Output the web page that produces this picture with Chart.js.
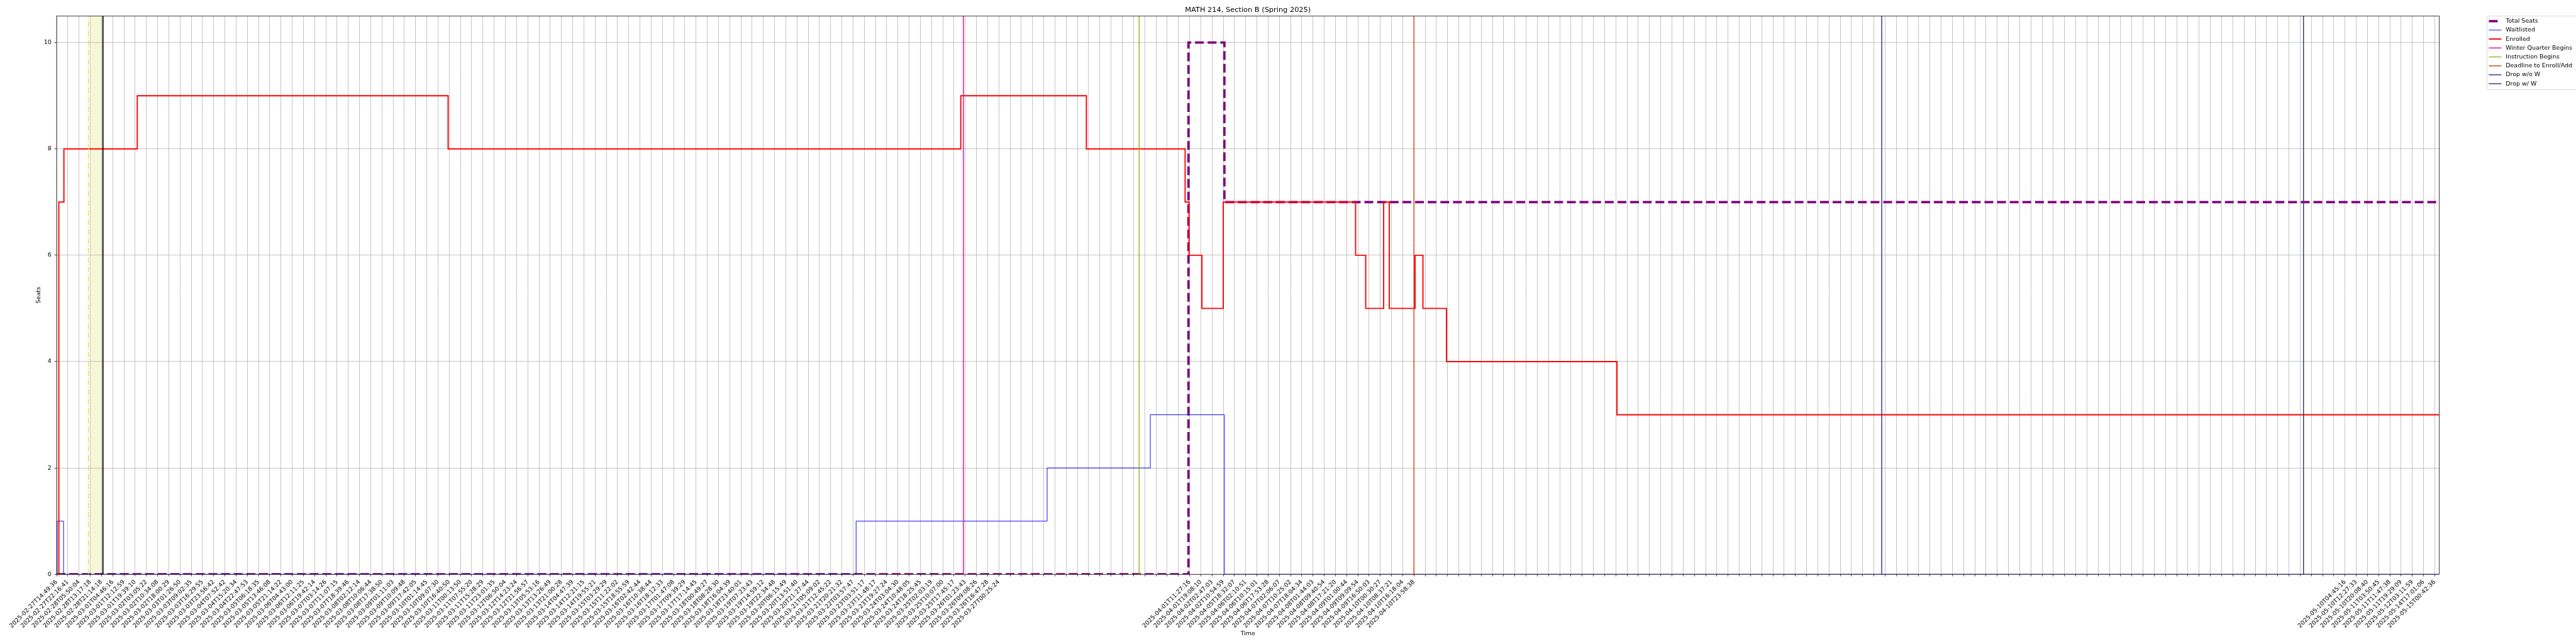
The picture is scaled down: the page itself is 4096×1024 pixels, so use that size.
<!DOCTYPE html>
<html>
<head>
<meta charset="utf-8">
<script src="https://cdn.jsdelivr.net/npm/chart.js@4"></script>
<style>
  html, body { margin: 0; padding: 0; background: #fff; }
  #wrap { width: 4096px; height: 1024px; }
</style>
</head>
<body>
<div id="wrap"><canvas id="chart" width="4096" height="1024"></canvas></div>
<script>
/* one label per x tick (scrape timestamps); '' = not read yet */
const tickLabels = [
    '2025-02-27T14:49:36', '2025-02-27T22:16:41', '2025-02-28T05:50:04', '2025-02-28T13:17:18',
    '2025-02-28T21:14:18', '2025-03-01T04:46:16', '2025-03-01T12:12:59', '2025-03-01T19:39:10',
    '2025-03-02T03:05:22', '2025-03-02T10:34:08', '2025-03-02T18:00:29', '2025-03-03T01:26:50',
    '2025-03-03T09:02:35', '2025-03-03T16:29:55', '2025-03-03T23:56:42', '2025-03-04T07:52:42',
    '2025-03-04T15:20:34', '2025-03-04T22:47:53', '2025-03-05T06:18:35', '2025-03-05T13:46:08',
    '2025-03-05T21:14:22', '2025-03-06T04:43:00', '2025-03-06T12:11:25', '2025-03-06T19:42:14',
    '2025-03-07T03:14:26', '2025-03-07T11:07:15', '2025-03-07T18:39:46', '2025-03-08T02:12:14',
    '2025-03-08T10:06:44', '2025-03-08T17:38:50', '2025-03-09T01:11:03', '2025-03-09T10:09:48',
    '2025-03-09T17:42:05', '2025-03-10T01:14:45', '2025-03-10T09:07:30', '2025-03-10T16:40:50',
    '2025-03-11T00:13:50', '2025-03-11T07:55:20', '2025-03-11T15:28:29', '2025-03-11T23:01:35',
    '2025-03-12T06:50:04', '2025-03-12T14:23:24', '2025-03-12T21:56:57', '2025-03-13T05:53:16',
    '2025-03-13T13:26:49', '2025-03-13T21:00:28', '2025-03-14T04:47:39', '2025-03-14T12:21:15',
    '2025-03-14T19:55:21', '2025-03-15T03:29:29', '2025-03-15T11:22:02', '2025-03-15T18:55:59',
    '2025-03-16T02:42:44', '2025-03-16T10:38:44', '2025-03-16T18:12:33', '2025-03-17T01:47:08',
    '2025-03-17T09:39:29', '2025-03-17T17:14:45', '2025-03-18T00:49:27', '2025-03-18T08:28:30',
    '2025-03-18T16:04:39', '2025-03-18T23:40:01', '2025-03-19T07:23:43', '2025-03-19T14:59:12',
    '2025-03-19T22:34:48', '2025-03-20T06:15:49', '2025-03-20T13:51:40', '2025-03-20T21:27:44',
    '2025-03-21T05:09:02', '2025-03-21T12:45:22', '2025-03-21T20:21:32', '2025-03-22T03:57:47',
    '2025-03-23T03:51:17', '2025-03-23T11:48:17', '2025-03-23T19:27:24', '2025-03-24T03:04:30',
    '2025-03-24T10:48:05', '2025-03-24T18:25:45', '2025-03-25T02:03:19', '2025-03-25T10:07:00',
    '2025-03-25T17:45:17', '2025-03-26T01:23:43', '2025-03-26T09:08:26', '2025-03-26T16:47:28',
    '2025-03-27T00:25:24',
    '', '', '', '', '', '', '', '', '', '', '', '', '', '', '', '',
    '2025-04-01T11:27:16', '2025-04-01T19:08:10', '2025-04-02T02:47:03', '2025-04-02T10:54:59',
    '2025-04-05T18:32:07', '2025-04-06T02:10:51', '2025-04-06T10:15:01', '2025-04-06T17:53:28',
    '2025-04-07T02:06:07', '2025-04-07T10:25:02', '2025-04-07T18:04:34', '2025-04-08T01:44:03',
    '2025-04-08T09:40:54', '2025-04-08T17:21:20', '2025-04-09T01:00:44', '2025-04-09T09:09:54',
    '2025-04-09T16:50:03', '2025-04-10T00:30:27', '2025-04-10T08:37:21', '2025-04-10T16:18:04',
    '2025-04-10T23:58:38',
    '', '', '', '', '', '', '', '', '', '', '', '', '', '', '', '', '', '', '', '',
    '', '', '', '', '', '', '', '', '', '', '', '', '', '', '', '', '', '', '', '',
    '', '', '', '', '', '', '', '', '', '', '', '', '', '', '', '', '', '', '', '',
    '', '', '', '', '', '', '', '', '', '', '', '', '', '', '', '', '', '', '', '',
    '', '',
    '2025-05-10T04:45:16', '2025-05-10T12:27:33', '2025-05-10T20:08:40', '2025-05-11T03:50:45',
    '2025-05-11T11:47:38', '2025-05-11T19:29:09', '2025-05-12T03:11:59', '2025-05-14T17:01:06',
    '2025-05-15T00:42:36'
];
const yTicks = [0, 2, 4, 6, 8, 10];

/* series: x is the position along the time axis in tick units, y is seats */
const totalX = [0, 100.9, 104.1, 212.4];
const totalY = [0, 10, 7, 7];
const waitX = [0, 0.05, 0.62, 71.27, 88.3, 97.5, 104.1, 212.4];
const waitY = [0, 1, 0, 1, 2, 3, 0, 0];
const enrolledX = [0, 0.2, 0.65, 7.19, 34.9, 80.6, 91.8, 100.6, 100.95, 102.1, 104.0,
    115.8, 116.7, 118.3, 118.8, 121.1, 121.8, 123.9, 139.1, 212.4];
const enrolledY = [0, 7, 8, 9, 8, 9, 8, 7, 6, 5, 7, 6, 5, 7, 5, 6, 5, 4, 3, 3];

/* event markers */
const eventNames = ['Winter Quarter Begins', 'Instruction Begins', 'Deadline to Enroll/Add', 'Drop w/o W', 'Drop w/ W'];
const eventX = [80.83, 96.5, 121.0, 162.7, 200.3];
const eventColors = ['#dc1496', '#93b414', '#cc4418', '#33299b', '#2f3a63'];
const markX = 2.83;       // yellow dash-dot
const shadeFrom = 3.0;    // shaded span
const shadeTo = 4.05;
const blackX = 4.13;      // black marker

const xEnd = 212.4;
const yTop = 10.5;

const S = 0.682;               // reference px -> page px
const FONT = 13.9 * S;

Chart.defaults.font.family = "'DejaVu Sans', sans-serif";
Chart.defaults.color = '#000';

const pts = (xs, ys) => xs.map((x, i) => ({ x: x, y: ys[i] }));
const vline = (x, color, width, dash, order, label) => ({
    label: label,
    data: [{ x: x, y: 0 }, { x: x, y: yTop }],
    borderColor: color,
    borderWidth: width,
    borderDash: dash,
    order: order
});

const datasets = [
    { label: 'Total Seats', data: pts(totalX, totalY), borderColor: '#800080', borderWidth: 5.56 * S,
      borderDash: [20.6 * S, 8.9 * S], stepped: true, order: 10 },
    { label: 'Waitlisted', data: pts(waitX, waitY), borderColor: '#0000ff', borderWidth: 1.39 * S,
      stepped: true, order: 9 },
    { label: 'Enrolled', data: pts(enrolledX, enrolledY), borderColor: '#ff0000', borderWidth: 2.78 * S,
      stepped: true, order: 8 }
];
eventNames.forEach((name, i) => {
    datasets.push(vline(eventX[i], eventColors[i], 2.1 * S, [], 5 - i, name));
});
datasets.push(vline(markX, '#e6e03c', 2.1 * S, [13.3 * S, 3.3 * S, 2.1 * S, 3.3 * S], 7));
datasets.push(vline(blackX, '#000000', 2.6 * S, [], 6));
datasets.forEach(d => { d.pointRadius = 0; d.fill = false; d.clip = 0; });

/* span drawn under the grid */
const shadePlugin = {
    id: 'shade',
    beforeDraw(chart) {
        const { ctx, chartArea, scales } = chart;
        const x0 = scales.x.getPixelForValue(shadeFrom);
        const x1 = scales.x.getPixelForValue(shadeTo);
        ctx.save();
        ctx.fillStyle = '#f5f7d8';
        ctx.fillRect(x0, chartArea.top, x1 - x0, chartArea.bottom - chartArea.top);
        ctx.restore();
    }
};

/* four black spines on top of the data */
const spinePlugin = {
    id: 'spines',
    afterDatasetsDraw(chart) {
        const { ctx, chartArea } = chart;
        ctx.save();
        ctx.strokeStyle = '#000';
        ctx.lineWidth = 1.11 * S;
        ctx.strokeRect(chartArea.left, chartArea.top, chartArea.right - chartArea.left, chartArea.bottom - chartArea.top);
        ctx.restore();
    }
};

/* legend outside the axes, upper left of the right margin */
const legendPlugin = {
    id: 'mplLegend',
    afterDraw(chart) {
        const ctx = chart.ctx;
        const items = chart.data.datasets.filter(d => d.label);
        const left = 5798.7 * S, top = 37.3 * S, bottom = 209 * S;
        ctx.save();
        ctx.beginPath();
        ctx.roundRect(left, top, 400 * S, bottom - top, 2.8 * S);
        ctx.fillStyle = 'rgba(255,255,255,0.8)';
        ctx.fill();
        ctx.strokeStyle = '#cccccc';
        ctx.lineWidth = 1.11 * S;
        ctx.stroke();
        ctx.font = FONT + "px 'DejaVu Sans'";
        ctx.textBaseline = 'middle';
        items.forEach((d, i) => {
            const y = (49.3 + i * 20.85) * S;
            ctx.beginPath();
            ctx.strokeStyle = d.borderColor;
            ctx.lineWidth = d.borderWidth;
            ctx.setLineDash(d.borderDash || []);
            ctx.moveTo(5802.7 * S, y);
            ctx.lineTo(5832 * S, y);
            ctx.stroke();
            ctx.setLineDash([]);
            ctx.fillStyle = '#000';
            ctx.fillText(d.label, 5842 * S, y);
        });
        ctx.restore();
    }
};

const gridOpts = { color: '#b0b0b0', lineWidth: 1.11 * S, tickLength: 4.9 * S, tickColor: '#000', tickWidth: 1.11 * S };

const ctx = document.querySelector('#chart').getContext('2d');
const chart = new Chart(ctx, {
    type: 'line',
    data: { datasets: datasets },
    plugins: [shadePlugin, spinePlugin, legendPlugin],
    options: {
        responsive: false,
        animation: false,
        devicePixelRatio: 1,
        layout: { padding: { left: 0, right: 4096 - 5687 * S, top: 0, bottom: 0 } },
        plugins: {
            legend: { display: false },
            tooltip: { enabled: false },
            title: {
                display: true,
                fullSize: false,
                text: 'MATH 214, Section B (Spring 2025)',
                color: '#000',
                font: { size: 16.67 * S, weight: 'normal' },
                padding: { top: 8.9, bottom: 2.8 }
            }
        },
        scales: {
            x: {
                type: 'linear',
                min: 0,
                max: xEnd,
                afterBuildTicks: s => { s.ticks = tickLabels.map((_, i) => ({ value: i })); },
                afterFit: s => { s.height = 1024 - 1339 * S; },
                ticks: {
                    autoSkip: false,
                    minRotation: 45,
                    maxRotation: 45,
                    padding: 4.9 * S,
                    font: { size: FONT },
                    color: '#000',
                    callback: v => tickLabels[v] || ''
                },
                grid: gridOpts,
                border: { display: false },
                title: { display: true, text: 'Time', font: { size: FONT }, padding: { top: 0, bottom: 10.6 } }
            },
            y: {
                min: 0,
                max: yTop,
                afterBuildTicks: s => { s.ticks = yTicks.map(v => ({ value: v })); },
                afterFit: s => { s.width = 132 * S; },
                ticks: { padding: 5, font: { size: FONT }, color: '#000' },
                grid: gridOpts,
                border: { display: false },
                title: { display: true, text: 'Seats', font: { size: FONT }, padding: { top: 56.3, bottom: 0 } }
            }
        }
    }
});
</script>
</body>
</html>
